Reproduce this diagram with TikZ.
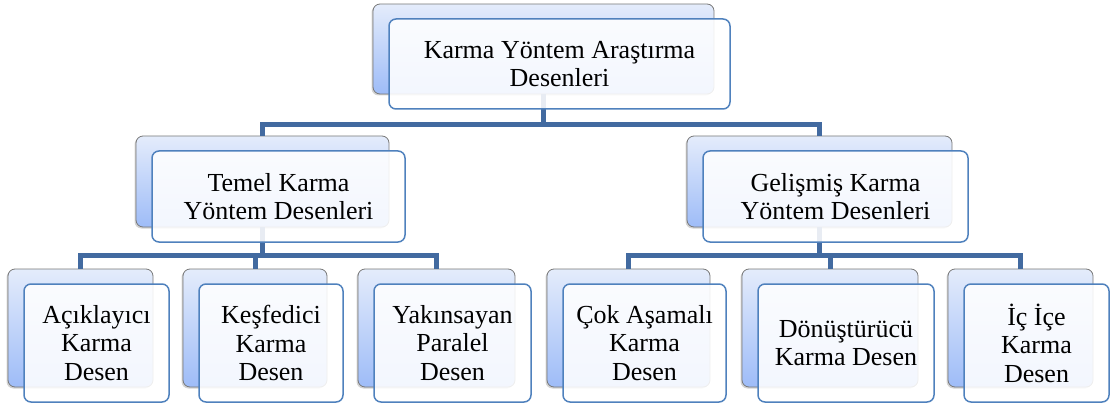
\documentclass[tikz,border=0pt]{standalone}
\usepackage{fontspec}
\setmainfont{Liberation Serif}
\usepackage{xcolor}
\usetikzlibrary{shadows}
\definecolor{boxblue}{RGB}{79,129,189}
\definecolor{linkblue}{RGB}{66,106,160}
\definecolor{backtop}{RGB}{228,236,251}
\definecolor{backbottom}{RGB}{158,188,248}
\definecolor{backline}{RGB}{120,120,120}

\tikzset{
    backbox/.style={rectangle,
        rounded corners=7pt,
        draw=backline,
        line width=0.8pt,
        top color=backtop,
        bottom color=backbottom,
        drop shadow={shadow xshift=-1.5pt, shadow yshift=-1.5pt, opacity=0.35}},
    frontbox/.style={rectangle,
        rounded corners=7pt,
        draw=boxblue,
        line width=1.5pt,
        fill=white,
        fill opacity=0.88,
        text opacity=1,
        align=center,
        font=\fontsize{26}{28.5}\selectfont},
    link/.style={draw=linkblue, line width=5pt}
}

\begin{document}
\begin{tikzpicture}[x=1pt,y=-1pt]
    \useasboundingbox (0,0) rectangle (1110,406);

    % Back boxes
    \node [backbox, minimum width=341pt, minimum height=90pt] (mainB) at (543.5,49) {};
    \node [backbox, minimum width=253pt, minimum height=91pt] (temelB) at (262.5,181.5) {};
    \node [backbox, minimum width=265pt, minimum height=91pt] (gelismisB) at (819.5,181.5) {};
    \node [backbox, minimum width=145pt, minimum height=118pt] (aciklayiciB) at (80.5,328) {};
    \node [backbox, minimum width=144pt, minimum height=118pt] (kesfediciB) at (255,328) {};
    \node [backbox, minimum width=157pt, minimum height=118pt] (yakinsayanB) at (436.5,328) {};
    \node [backbox, minimum width=163pt, minimum height=118pt] (cokB) at (628.5,328) {};
    \node [backbox, minimum width=176pt, minimum height=118pt] (donusturucuB) at (830,328) {};
    \node [backbox, minimum width=145pt, minimum height=118pt] (iciceB) at (1020.5,328) {};

    % Connectors
    \draw [link] (mainB.south) -- ++(0,30) -| (temelB.north);
    \draw [link] (mainB.south) -- ++(0,30) -| (gelismisB.north);
    \draw [link] (temelB.south) -- ++(0,28) -| (aciklayiciB.north);
    \draw [link] (temelB.south) -- ++(0,28) -| (kesfediciB.north);
    \draw [link] (temelB.south) -- ++(0,28) -| (yakinsayanB.north);
    \draw [link] (gelismisB.south) -- ++(0,28) -| (cokB.north);
    \draw [link] (gelismisB.south) -- ++(0,28) -| (donusturucuB.north);
    \draw [link] (gelismisB.south) -- ++(0,28) -| (iciceB.north);

    % Front boxes
    \node [frontbox, minimum width=341pt, minimum height=90pt] (main)
        at ([shift={(16,15)}]mainB) {Karma Yöntem Araştırma\\Desenleri};
    \node [frontbox, minimum width=253pt, minimum height=91pt] (temel)
        at ([shift={(16,15)}]temelB) {Temel Karma\\Yöntem Desenleri};
    \node [frontbox, minimum width=265pt, minimum height=91pt] (gelismis)
        at ([shift={(16,15)}]gelismisB) {Gelişmiş Karma\\Yöntem Desenleri};
    \node [frontbox, minimum width=145pt, minimum height=118pt] (aciklayici)
        at ([shift={(16,15)}]aciklayiciB) {Açıklayıcı\\Karma\\Desen};
    \node [frontbox, minimum width=144pt, minimum height=118pt] (kesfedici)
        at ([shift={(16,15)}]kesfediciB) {Keşfedici\\Karma\\Desen};
    \node [frontbox, minimum width=157pt, minimum height=118pt] (yakinsayan)
        at ([shift={(16,15)}]yakinsayanB) {Yakınsayan\\Paralel\\Desen};
    \node [frontbox, minimum width=163pt, minimum height=118pt] (cok)
        at ([shift={(16,15)}]cokB) {Çok Aşamalı\\Karma\\Desen};
    \node [frontbox, minimum width=176pt, minimum height=118pt] (donusturucu)
        at ([shift={(16,15)}]donusturucuB) {Dönüştürücü\\Karma Desen};
    \node [frontbox, minimum width=145pt, minimum height=118pt] (icice)
        at ([shift={(16,15)}]iciceB) {İç İçe\\Karma\\Desen};

\end{tikzpicture}
\end{document}
